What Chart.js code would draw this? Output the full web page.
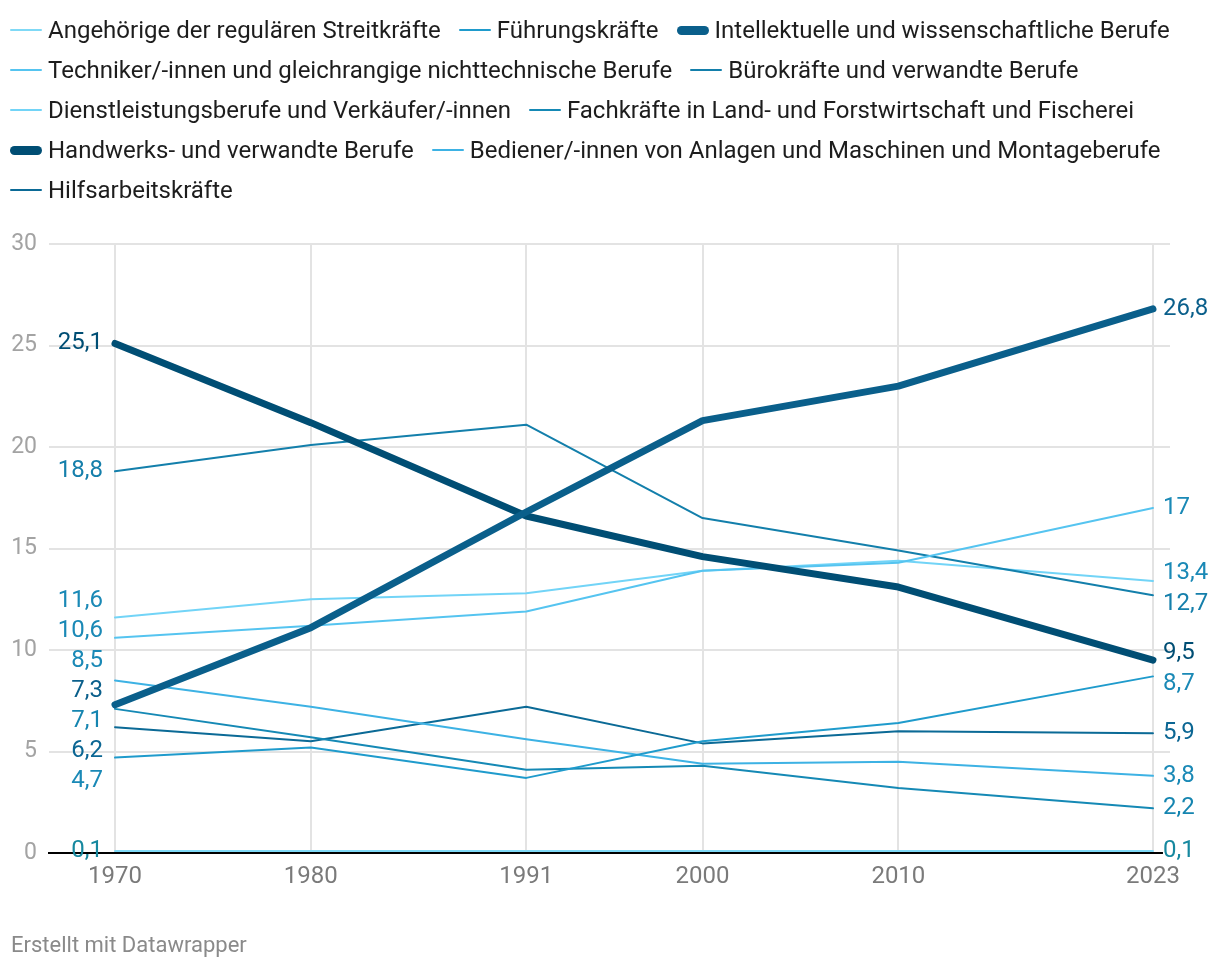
<!DOCTYPE html>
<html><head><meta charset="utf-8">
<script src="https://cdn.jsdelivr.net/npm/chart.js@4.4.1/dist/chart.umd.min.js"></script>
<style>
html,body{margin:0;padding:0;background:#fff;width:1220px;height:970px;overflow:hidden;font-family:Roboto,sans-serif;}
#wrap{position:relative;width:1220px;height:970px;}
#chart{position:absolute;left:0;top:0;}
#legend{position:absolute;left:10px;top:10px;width:1200px;display:flex;flex-wrap:wrap;column-gap:18px;}
.item{display:flex;align-items:center;height:40px;font-size:24px;color:#1d1d1d;white-space:nowrap;}
.mk{width:32px;margin-right:6px;border-radius:5px;}
#footer{position:absolute;left:11px;top:932px;font-size:22px;color:#8a8a8a;}
</style>
</head><body>
<div id="wrap">
<canvas id="chart" width="1220" height="970"></canvas>
<div id="legend"></div>
<div id="footer">Erstellt mit Datawrapper</div>
</div>
<script>
const years = [1970, 1980, 1991, 2000, 2010, 2023];
const yTicks = [0, 5, 10, 15, 20, 25, 30];

const seriesNames = [
  "Angehörige der regulären Streitkräfte",
  "Führungskräfte",
  "Intellektuelle und wissenschaftliche Berufe",
  "Techniker/-innen und gleichrangige nichttechnische Berufe",
  "Bürokräfte und verwandte Berufe",
  "Dienstleistungsberufe und Verkäufer/-innen",
  "Fachkräfte in Land- und Forstwirtschaft und Fischerei",
  "Handwerks- und verwandte Berufe",
  "Bediener/-innen von Anlagen und Maschinen und Montageberufe",
  "Hilfsarbeitskräfte"
];

const streitkraefte   = [0.1, 0.1, 0.1, 0.1, 0.1, 0.1];
const fuehrung        = [4.7, 5.2, 3.7, 5.5, 6.4, 8.7];
const intellektuelle  = [7.3, 11.1, 16.8, 21.3, 23.0, 26.8];
const techniker       = [10.6, 11.2, 11.9, 13.9, 14.3, 17.0];
const buero           = [18.8, 20.1, 21.1, 16.5, 14.9, 12.7];
const dienstleistung  = [11.6, 12.5, 12.8, 13.9, 14.4, 13.4];
const landwirtschaft  = [7.1, 5.7, 4.1, 4.3, 3.2, 2.2];
const handwerk        = [25.1, 21.2, 16.6, 14.6, 13.1, 9.5];
const bediener        = [8.5, 7.2, 5.6, 4.4, 4.5, 3.8];
const hilfsarbeit     = [6.2, 5.5, 7.2, 5.4, 6.0, 5.9];

const seriesValues = [streitkraefte, fuehrung, intellektuelle, techniker, buero,
  dienstleistung, landwirtschaft, handwerk, bediener, hilfsarbeit];

const lineColors = ['#7fd9f6', '#1f9bcc', '#0a5f8b', '#55c4f0', '#137fab',
  '#72d4f7', '#1589b5', '#004e74', '#3db2e4', '#0b6a96'];
const labelColors = ['#16889f', '#1a89b6', '#0a5f8b', '#1a89b6', '#157fab',
  '#1a89b6', '#1585b0', '#004e74', '#1a89b6', '#0b6693'];
const thick = [false, false, true, false, false, false, false, true, false, false];

// legend
const leg = document.getElementById('legend');
seriesNames.forEach((n, i) => {
  const it = document.createElement('div'); it.className = 'item';
  const mk = document.createElement('span'); mk.className = 'mk';
  mk.style.height = thick[i] ? '9px' : '2px';
  mk.style.background = lineColors[i];
  const t = document.createElement('span'); t.textContent = n;
  it.appendChild(mk); it.appendChild(t); leg.appendChild(it);
});

const fmt = v => String(v).replace('.', ',');

function place(items, gap) {
  items.sort((a, b) => a.want - b.want);
  let clusters = items.map(it => ({ members: [it] }));
  const layout = c => {
    const mean = c.members.reduce((s, m) => s + m.want, 0) / c.members.length;
    const start = mean - (c.members.length - 1) * gap / 2;
    c.members.forEach((m, k) => m.y = start + k * gap);
  };
  clusters.forEach(layout);
  let changed = true;
  while (changed) {
    changed = false;
    for (let i = 0; i < clusters.length - 1; i++) {
      const a = clusters[i], b = clusters[i + 1];
      if (b.members[0].y - a.members[a.members.length - 1].y < gap) {
        a.members = a.members.concat(b.members);
        clusters.splice(i + 1, 1);
        layout(a);
        changed = true; break;
      }
    }
  }
}

const endLabels = {
  id: 'endLabels',
  afterDatasetsDraw(chart) {
    const ctx = chart.ctx, xs = chart.scales.x, ys = chart.scales.y;
    ctx.save();
    ctx.strokeStyle = '#000'; ctx.lineWidth = 2;
    const y0 = Math.round(ys.getPixelForValue(0));
    ctx.beginPath(); ctx.moveTo(chart.chartArea.left - 1, y0);
    ctx.lineTo(xs.getPixelForValue(years[years.length - 1]) + 10, y0); ctx.stroke();
    ctx.restore();

    const left = [], right = [];
    seriesValues.forEach((vals, i) => {
      left.push({ txt: fmt(vals[0]), want: ys.getPixelForValue(vals[0]), col: labelColors[i] });
      right.push({ txt: fmt(vals[vals.length - 1]), want: ys.getPixelForValue(vals[vals.length - 1]), col: labelColors[i] });
    });
    place(left, 30); place(right, 31);
    ctx.save();
    ctx.font = '24px Roboto';
    ctx.textBaseline = 'middle';
    const xl = xs.getPixelForValue(years[0]) - 12;
    const xr = xs.getPixelForValue(years[years.length - 1]) + 10;
    ctx.textAlign = 'right';
    left.forEach(l => { ctx.fillStyle = l.col; ctx.fillText(l.txt, xl, l.y); });
    ctx.textAlign = 'left';
    right.forEach(l => { ctx.fillStyle = l.col; ctx.fillText(l.txt, xr, l.y); });
    ctx.restore();
  }
};

const datasets = seriesValues.map((vals, i) => ({
  label: seriesNames[i],
  data: years.map((yr, k) => ({ x: yr, y: vals[k] })),
  borderColor: lineColors[i],
  backgroundColor: lineColors[i],
  borderWidth: thick[i] ? 7 : 2,
  borderCapStyle: 'round',
  borderJoinStyle: 'round',
  pointRadius: 0,
  tension: 0,
  fill: false,
  order: thick[i] ? 0 : 1
}));

new Chart(document.getElementById('chart'), {
  type: 'line',
  data: { datasets },
  options: {
    responsive: false,
    animation: false,
    devicePixelRatio: 1,
    layout: { padding: { top: 244, right: 50, left: 0, bottom: 0 } },
    plugins: { legend: { display: false }, tooltip: { enabled: false } },
    scales: {
      x: {
        type: 'linear',
        min: 1966.63, max: 2023.87,
        afterBuildTicks: s => { s.ticks = years.map(v => ({ value: v })); },
        afterFit: s => { s.height = 117; },
        ticks: { callback: v => String(v), color: '#7a7a7a', font: { family: 'Roboto', size: 24 }, padding: 10, maxRotation: 0, autoSkip: false },
        grid: { color: '#e3e3e3', lineWidth: 2, drawTicks: false },
        border: { display: false }
      },
      y: {
        min: 0, max: 30,
        afterBuildTicks: s => { s.ticks = yTicks.map(v => ({ value: v })); },
        afterFit: s => { s.width = 49; },
        ticks: { color: '#a3a3a3', font: { family: 'Roboto', size: 23 }, padding: 12 },
        grid: { color: c => c.tick && c.tick.value === 0 ? 'rgba(0,0,0,0)' : '#e3e3e3', lineWidth: 2, drawTicks: false },
        border: { display: false }
      }
    }
  },
  plugins: [endLabels]
});
</script>
</body></html>
